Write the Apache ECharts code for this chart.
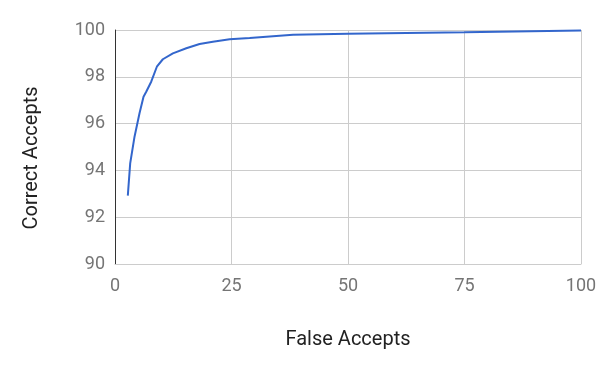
<!DOCTYPE html>
<html><head><meta charset="utf-8">
<script src="https://cdn.jsdelivr.net/npm/echarts@6/dist/echarts.min.js"></script>
<style>html,body{margin:0;padding:0;background:#fff}#c{width:600px;height:371px}</style>
</head><body><div id="c"></div>
<script>
const falseAccepts = [2.75, 3.26, 4.19, 5.26, 6.12, 6.7, 7.77, 8.98, 10.27, 12.42, 15.3, 18.15, 21.0, 24.6, 28.9, 38.2, 50, 75, 100];
const correctAccepts = [92.92, 94.3, 95.44, 96.44, 97.15, 97.36, 97.79, 98.43, 98.75, 99.0, 99.22, 99.4, 99.5, 99.6, 99.66, 99.8, 99.84, 99.9, 99.98];
const xTitle = 'False Accepts';
const yTitle = 'Correct Accepts';
const chart = echarts.init(document.getElementById('c'));
const font = 'Roboto, sans-serif';
chart.setOption({
  animation: false,
  grid: {left: 115, right: 19, top: 30, bottom: 107},
  xAxis: {
    type: 'value', min: 0, max: 100, interval: 25,
    name: xTitle, nameLocation: 'middle', nameGap: 66,
    nameTextStyle: {color: '#222', fontSize: 20, fontFamily: font},
    axisLine: {show: true, lineStyle: {color: '#cccccc'}},
    axisTick: {show: false},
    axisLabel: {color: '#757575', fontSize: 18, fontFamily: font, margin: 13},
    splitLine: {show: true, lineStyle: {color: '#cccccc'}}
  },
  yAxis: {
    type: 'value', min: 90, max: 100, interval: 2,
    name: yTitle, nameLocation: 'middle', nameGap: 73,
    nameTextStyle: {color: '#222', fontSize: 20, fontFamily: font, padding: [0, 22, 0, 0]},
    axisLine: {show: true, lineStyle: {color: '#333333'}},
    axisTick: {show: false},
    axisLabel: {color: '#757575', fontSize: 18, fontFamily: font, margin: 10},
    splitLine: {show: true, lineStyle: {color: '#cccccc'}}
  },
  series: [{
    type: 'line', showSymbol: false, smooth: false,
    data: falseAccepts.map((x, i) => [x, correctAccepts[i]]),
    lineStyle: {color: '#3366cc', width: 2}
  }]
});
</script></body></html>
